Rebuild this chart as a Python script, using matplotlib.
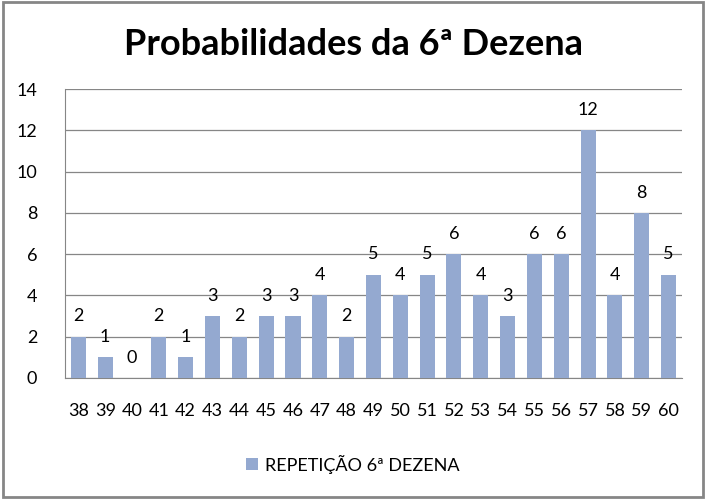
import matplotlib.pyplot as plt
from matplotlib.patches import Rectangle

# Data
dezenas = [str(n) for n in range(38, 61)]
repeticoes = [2, 1, 0, 2, 1, 3, 2, 3, 3, 4, 2, 5, 4, 5, 6, 4, 3, 6, 6, 12, 4, 8, 5]

bar_color = '#94A9D0'
plt.rcParams['font.family'] = ['Lato', 'DejaVu Sans']

fig = plt.figure(figsize=(7.06, 4.99), dpi=100)
ax = fig.add_axes([0.092, 0.2425, 0.874, 0.579])

x = range(len(dezenas))
bars = ax.bar(x, repeticoes, width=0.56, color=bar_color, zorder=3,
              label='REPETIÇÃO 6ª DEZENA')
for xi, v in zip(x, repeticoes):
    ax.text(xi, v + 0.6, str(v), ha='center', va='bottom', fontsize=13)

ax.set_xlim(-0.5, len(dezenas) - 0.5)
ax.set_ylim(0, 14)
ax.set_yticks(range(0, 15, 2))
ax.set_xticks(list(x))
ax.set_xticklabels(dezenas)
ax.tick_params(axis='both', length=0, labelsize=13)
ax.tick_params(axis='y', pad=20)
ax.tick_params(axis='x', pad=18)
ax.grid(axis='y', color='#868686', linewidth=0.9, zorder=0)
for side in ['top', 'right']:
    ax.spines[side].set_visible(False)
ax.spines['left'].set_color('#868686')
ax.spines['bottom'].set_color('#868686')

fig.text(0.5, 0.91, 'Probabilidades da 6ª Dezena', ha='center', va='center',
         fontsize=26, fontweight='bold')

fig.legend(handles=[bars], loc='center', bbox_to_anchor=(0.5, 0.07),
           frameon=False, fontsize=13, handlelength=0.65, handleheight=0.65,
           handletextpad=0.4)

fig.patches.append(Rectangle((0.004, 0.004), 0.992, 0.992, transform=fig.transFigure,
                             fill=False, edgecolor='#868686', linewidth=2))

fig.savefig('out.png', dpi=100)
